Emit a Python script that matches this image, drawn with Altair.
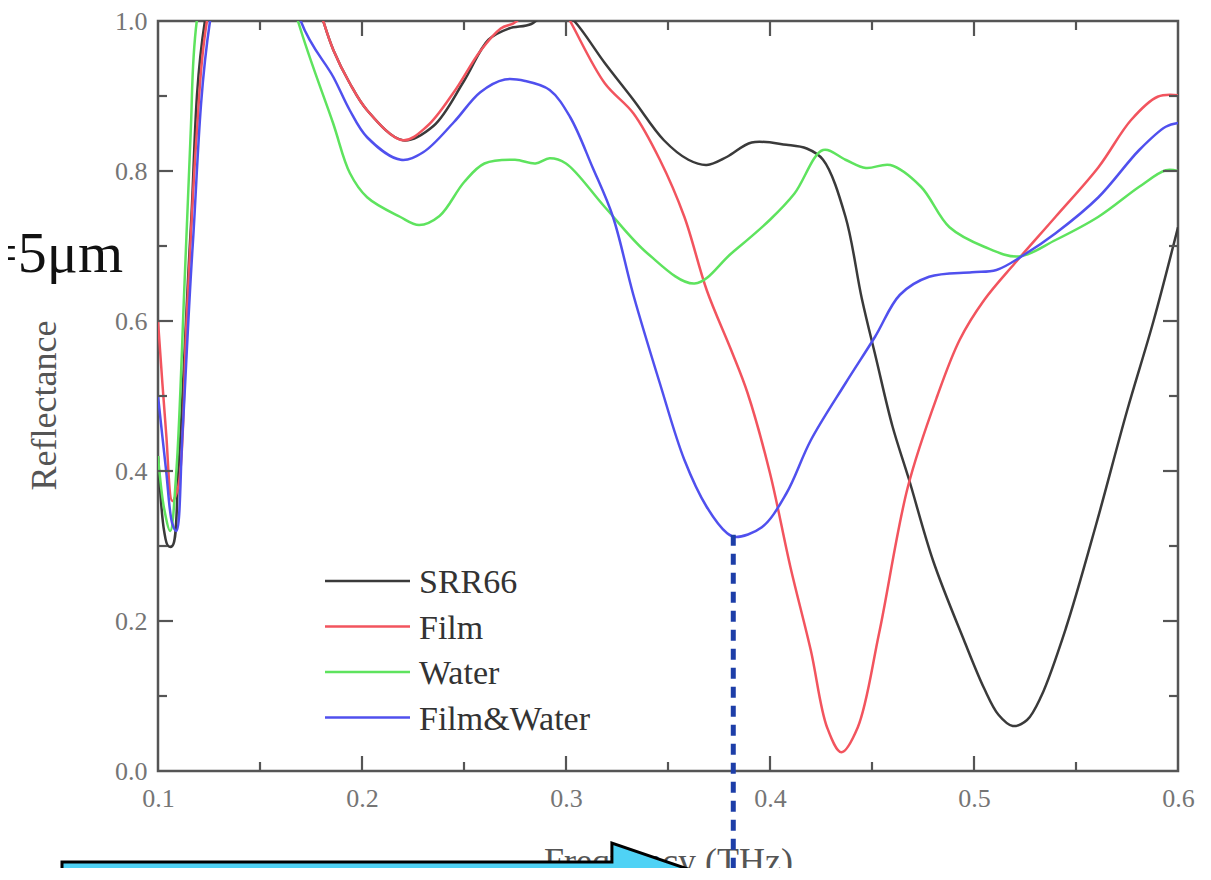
import altair as alt
import pandas as pd

# ---------------- data ----------------
series_names = ["SRR66", "Film", "Water", "Film&Water"]
series_colors = ["#3a3a3a", "#f2545e", "#5ee35e", "#5050ee"]

srr66_freq = [0.100, 0.103, 0.105, 0.107, 0.110, 0.116, 0.123, 0.150, 0.181, 0.186, 0.194, 0.2025,
              0.220, 0.235, 0.250, 0.262, 0.272, 0.283, 0.295, 0.304, 0.319, 0.333, 0.348, 0.360,
              0.369, 0.379, 0.391, 0.408, 0.418, 0.426, 0.437, 0.445, 0.452, 0.460, 0.468, 0.480,
              0.495, 0.505, 0.512, 0.519, 0.526, 0.533, 0.545, 0.560, 0.575, 0.588, 0.600]
srr66_refl = [0.42, 0.32, 0.30, 0.30, 0.40, 0.72, 1.00, 1.30, 1.00, 0.961, 0.917, 0.881,
              0.841, 0.86, 0.92, 0.975, 0.99, 0.996, 1.02, 1.00, 0.944, 0.895, 0.841, 0.815,
              0.808, 0.819, 0.838, 0.835, 0.83, 0.815, 0.739, 0.63, 0.55, 0.46, 0.39, 0.28,
              0.175, 0.11, 0.075, 0.06, 0.068, 0.10, 0.19, 0.33, 0.48, 0.60, 0.725]

film_freq = [0.100, 0.104, 0.107, 0.110, 0.114, 0.119, 0.124, 0.150, 0.181, 0.186, 0.194, 0.2025,
             0.220, 0.232, 0.245, 0.258, 0.268, 0.276, 0.290, 0.302, 0.319, 0.333, 0.346, 0.358,
             0.369, 0.381, 0.389, 0.400, 0.410, 0.420, 0.428, 0.435, 0.443, 0.4535, 0.4676, 0.482,
             0.493, 0.505, 0.520, 0.540, 0.561, 0.577, 0.590, 0.600]
film_refl = [0.60, 0.45, 0.36, 0.38, 0.60, 0.85, 1.00, 1.30, 1.00, 0.961, 0.917, 0.881,
             0.841, 0.86, 0.905, 0.96, 0.99, 1.00, 1.06, 1.00, 0.917, 0.877, 0.815, 0.739,
             0.641, 0.561, 0.504, 0.397, 0.272, 0.161, 0.058, 0.025, 0.058, 0.184, 0.379, 0.50,
             0.575, 0.628, 0.677, 0.739, 0.805, 0.868, 0.899, 0.901]

water_freq = [0.100, 0.103, 0.106, 0.109, 0.113, 0.116, 0.119, 0.140, 0.1686, 0.1858, 0.1941, 0.2025,
              0.2186, 0.228, 0.238, 0.250, 0.260, 0.275, 0.285, 0.292, 0.300, 0.319, 0.340, 0.363,
              0.381, 0.400, 0.412, 0.426, 0.437, 0.447, 0.459, 0.474, 0.488, 0.505, 0.522, 0.540,
              0.561, 0.581, 0.594, 0.600]
water_refl = [0.42, 0.35, 0.32, 0.40, 0.65, 0.85, 1.00, 1.30, 1.00, 0.864, 0.797, 0.765,
              0.739, 0.728, 0.74, 0.785, 0.81, 0.815, 0.81, 0.817, 0.81, 0.752, 0.69, 0.65,
              0.69, 0.735, 0.77, 0.828, 0.815, 0.804, 0.808, 0.779, 0.725, 0.699, 0.686, 0.708,
              0.739, 0.779, 0.801, 0.80]

fw_freq = [0.100, 0.104, 0.107, 0.109, 0.112, 0.117, 0.1255, 0.150, 0.170, 0.186, 0.194, 0.2025,
           0.219, 0.230, 0.245, 0.258, 0.270, 0.280, 0.292, 0.302, 0.313, 0.323, 0.333, 0.346,
           0.358, 0.369, 0.379, 0.383, 0.396, 0.408, 0.420, 0.437, 0.4515, 0.4637, 0.478, 0.499,
           0.511, 0.5255, 0.540, 0.561, 0.581, 0.594, 0.600]
fw_refl = [0.50, 0.40, 0.33, 0.32, 0.45, 0.70, 1.00, 1.30, 1.00, 0.925, 0.881, 0.845,
           0.815, 0.825, 0.865, 0.905, 0.922, 0.92, 0.908, 0.872, 0.805, 0.739, 0.635, 0.517,
           0.415, 0.352, 0.317, 0.312, 0.325, 0.37, 0.441, 0.517, 0.579, 0.635, 0.659, 0.665,
           0.668, 0.69, 0.717, 0.765, 0.828, 0.859, 0.864]

x_tick_labels = [0.1, 0.2, 0.3, 0.4, 0.5, 0.6]
y_tick_labels = [0.0, 0.2, 0.4, 0.6, 0.8, 1.0]
x_major_ticks = [0.2, 0.3, 0.4, 0.5]
x_minor_ticks = [0.15, 0.25, 0.35, 0.45, 0.55]
y_major_ticks = [0.2, 0.4, 0.6, 0.8]
y_minor_ticks = [0.1, 0.3, 0.5, 0.7, 0.9]

marker_freq = 0.382      # dashed marker at the Film&Water dip
marker_top = 0.315
marker_bottom = -0.15

annotation_text = "d=5μm"

# ---------------- build table ----------------
frames = []
for name, fr, rf in [("SRR66", srr66_freq, srr66_refl), ("Film", film_freq, film_refl),
                     ("Water", water_freq, water_refl), ("Film&Water", fw_freq, fw_refl)]:
    frames.append(pd.DataFrame({"series": name, "freq": fr, "refl": rf}))
df = pd.concat(frames, ignore_index=True)

W, H = 1020, 750
FONT = "Liberation Serif"
AXC = "#555555"

x_enc = alt.X("freq:Q",
              scale=alt.Scale(domain=[0.1, 0.6], nice=False, zero=False),
              axis=alt.Axis(values=x_tick_labels, format=".1f", ticks=False, domain=False, grid=False,
                            labelFlush=False, labelOverlap=False,
                            labelFont=FONT, labelFontSize=26, labelColor="#757575", labelPadding=14,
                            title="Frequency (THz)", titleFont=FONT, titleFontSize=36,
                            titleFontWeight="normal", titleColor=AXC, titleY=101,
                            titleBaseline="alphabetic"))
y_enc = alt.Y("refl:Q",
              scale=alt.Scale(domain=[0, 1], nice=False, zero=False),
              axis=alt.Axis(values=y_tick_labels, format=".1f", ticks=False, domain=False, grid=False,
                            labelFlush=False, labelOverlap=False,
                            labelFont=FONT, labelFontSize=26, labelColor="#757575", labelPadding=11,
                            title="Reflectance", titleFont=FONT, titleFontSize=36,
                            titleFontWeight="normal", titleColor=AXC, titleX=-103, titleY=384,
                            titleAngle=-90, titleBaseline="alphabetic", titleAlign="center"))

color_scale = alt.Scale(domain=series_names, range=series_colors)

lines = alt.Chart(df).mark_line(clip=True, interpolate="catmull-rom", strokeWidth=2.5).encode(
    x=x_enc, y=y_enc,
    color=alt.Color("series:N", scale=color_scale, legend=None),
    order="freq:Q",
)

# inward ticks (Origin style) on all four sides
MAJ, MIN = 15, 9
tick_layers = []
for vals, ln in [(x_major_ticks, MAJ), (x_minor_ticks, MIN)]:
    tdf = pd.DataFrame({"freq": vals})
    tick_layers.append(alt.Chart(tdf).mark_rule(color=AXC, strokeWidth=2.2).encode(
        x=x_enc, y=alt.value(H), y2=alt.value(H - ln)))
    tick_layers.append(alt.Chart(tdf).mark_rule(color=AXC, strokeWidth=2.2).encode(
        x=x_enc, y=alt.value(0), y2=alt.value(ln)))
for vals, ln in [(y_major_ticks, MAJ), (y_minor_ticks, MIN)]:
    tdf = pd.DataFrame({"refl": vals})
    tick_layers.append(alt.Chart(tdf).mark_rule(color=AXC, strokeWidth=2.2).encode(
        y=y_enc, x=alt.value(0), x2=alt.value(ln)))
    tick_layers.append(alt.Chart(tdf).mark_rule(color=AXC, strokeWidth=2.2).encode(
        y=y_enc, x=alt.value(W), x2=alt.value(W - ln)))

# legend inside plot
legend_layers = []
LEG_TOP, LEG_STEP = 560, 45.5
for i, (name, col) in enumerate(zip(series_names, series_colors)):
    ldf = pd.DataFrame({"series": [name]})
    yy = LEG_TOP + i * LEG_STEP
    legend_layers.append(alt.Chart(ldf).mark_rule(color=col, strokeWidth=2.5).encode(
        x=alt.value(167), x2=alt.value(252), y=alt.value(yy)))
    legend_layers.append(alt.Chart(ldf).mark_text(
        font=FONT, fontSize=34, color="#333333", align="left", baseline="alphabetic").encode(
        x=alt.value(261), y=alt.value(yy + 12), text="series:N"))

# dashed marker
mdf = pd.DataFrame({"freq": [marker_freq], "refl": [marker_top], "refl2": [marker_bottom]})
marker = alt.Chart(mdf).mark_rule(color="#1d3ea8", strokeWidth=5, strokeDash=[11, 8]).encode(
    x=x_enc, y=y_enc, y2="refl2:Q")

# slide annotation text
adf = pd.DataFrame({"t": [annotation_text]})
annot = alt.Chart(adf).mark_text(font=FONT, fontSize=58, color="#111111", align="right",
                                 baseline="alphabetic").encode(
    x=alt.value(-35), y=alt.value(251), text="t:N")

# slide arrow overlay
ARROW = "M -1 -0.113 L 0.517 -0.113 L 0.517 -0.1655 L 1 0 L 0.517 0.1655 L 0.517 0.113 L -1 0.113 Z"
arrow = alt.Chart(pd.DataFrame({"a": [0]})).mark_point(
    shape=ARROW, size=525625, filled=True, fill="#4fd2f5", stroke="#000000", strokeWidth=3,
    opacity=1, fillOpacity=1, strokeOpacity=1).encode(x=alt.value(266.5), y=alt.value(882))

chart = alt.layer(lines, *tick_layers, *legend_layers, marker, annot, arrow).properties(
    width=W, height=H,
    autosize=alt.AutoSizeParams(type="none"),
    padding={"left": 150, "top": 13, "right": 17, "bottom": 97},
    background="white",
).configure_view(stroke=AXC, strokeWidth=2.5)

chart.save("out.html", embed_options={"renderer": "svg", "actions": False})
